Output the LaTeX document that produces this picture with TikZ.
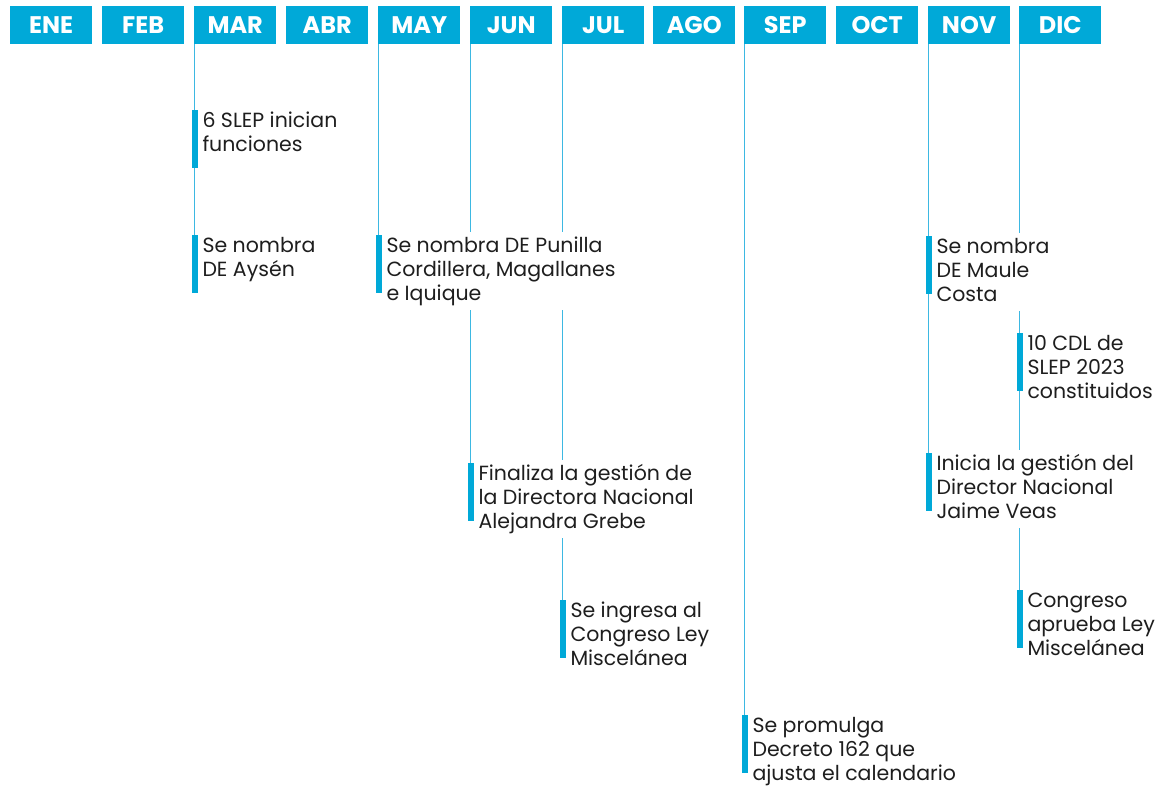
\documentclass[tikz,border=0pt]{standalone}
\usepackage{fontspec}
\setmainfont{Poppins}
\usetikzlibrary{backgrounds}
\definecolor{cbox}{HTML}{00A9D8}
\definecolor{cline}{HTML}{3DB8E2}
\definecolor{ctext}{HTML}{1E1E1E}
\tikzset{
  month/.style={fill=cbox, text=white, minimum width=82pt, minimum height=38pt, inner sep=0pt, anchor=north west, font=\bfseries\fontsize{24}{24}\selectfont},
  evbar/.style={fill=cbox, minimum width=6pt, minimum height=58pt, inner sep=0pt, anchor=north},
  evtext/.style={fill=white, text=ctext, align=left, anchor=north west, inner xsep=3pt, inner ysep=3pt, font=\fontsize{20.5}{24}\selectfont},
  tl/.style={draw=cline, line width=1.3pt},
}
\newcommand{\evt}[4]{% name, x, y, text
  \node[evbar] (#1) at (#2,#3) {};
  \node[evtext] (#1t) at (#2+4.5,#3-3) {\strut#4\strut};
}
\begin{document}
\begin{tikzpicture}[x=1pt,y=-1pt]
\useasboundingbox (0,0) rectangle (1162,787);
\node[month] (m1) at (10,6) {ENE};
\node[month] (m2) at (102,6) {FEB};
\node[month] (m3) at (194,6) {MAR};
\node[month] (m4) at (286,6) {ABR};
\node[month] (m5) at (378,6) {MAY};
\node[month] (m6) at (470,6) {JUN};
\node[month] (m7) at (562,6) {JUL};
\node[month] (m8) at (653,6) {AGO};
\node[month] (m9) at (744,6) {SEP};
\node[month] (m10) at (836,6) {OCT};
\node[month] (m11) at (928,6) {NOV};
\node[month] (m12) at (1019,6) {DIC};
\evt{e1}{194.8}{110}{6 SLEP inician\\funciones}
\evt{e2}{194.8}{235}{Se nombra\\DE Aysén}
\evt{e3}{378.8}{235}{Se nombra DE Punilla\\Cordillera, Magallanes\\e Iquique}
\evt{e4}{470.8}{463}{Finaliza la gestión de\\la Directora Nacional\\Alejandra Grebe}
\evt{e5}{562.8}{600}{Se ingresa al\\Congreso Ley\\Miscelánea}
\evt{e6}{744.8}{715}{Se promulga\\Decreto 162 que\\ajusta el calendario}
\evt{e7}{928.8}{236}{Se nombra\\DE Maule\\Costa}
\evt{e8}{928.8}{453}{Inicia la gestión del\\Director Nacional\\Jaime Veas}
\evt{e9}{1019.8}{333}{10 CDL de\\SLEP 2023\\constituidos}
\evt{e10}{1019.8}{590}{Congreso\\aprueba Ley\\Miscelánea}
\begin{scope}[on background layer]
\draw[tl] (m3.south -| e1.north) -- (e1) -- (e2.south);
\draw[tl] (m5.south -| e3.north) -- (e3.south);
\draw[tl] (m6.south -| e4.north) -- (e4.south);
\draw[tl] (m7.south -| e5.north) -- (e5.south);
\draw[tl] (m9.south -| e6.north) -- (e6.south);
\draw[tl] (m11.south -| e7.north) -- (e7) -- (e8.south);
\draw[tl] (m12.south -| e9.north) -- (e9) -- (e10.south);
\end{scope}
\end{tikzpicture}
\end{document}
